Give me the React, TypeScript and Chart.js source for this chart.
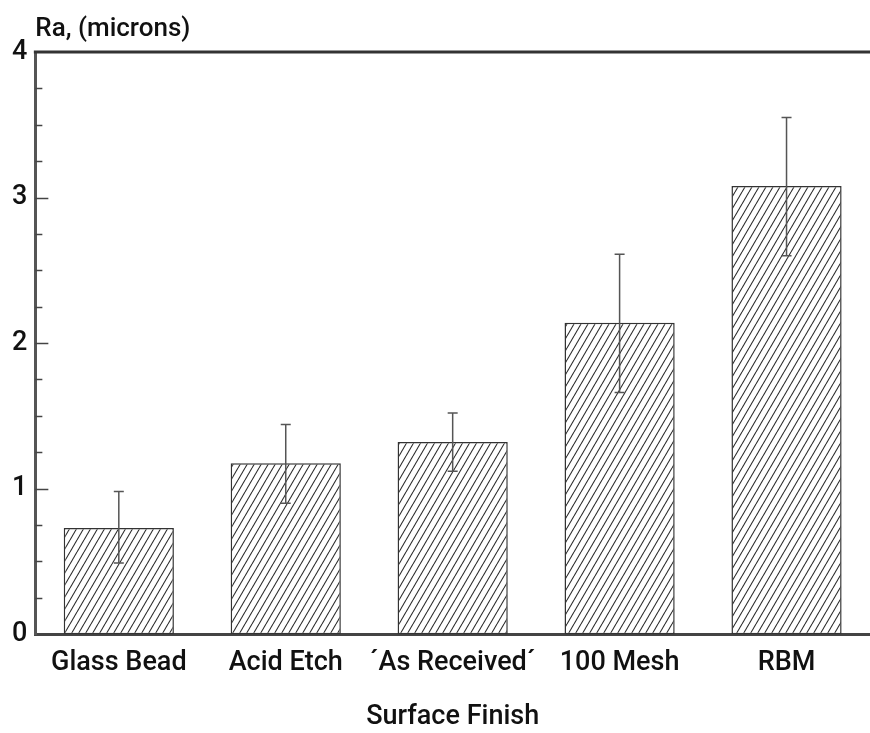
import React, { useEffect, useRef } from "react";
import { Chart, registerables } from "chart.js";

Chart.register(...registerables);

const categories = ["Glass Bead", "Acid Etch", "´As Received´", "100 Mesh", "RBM"];
const raValues = [0.73, 1.175, 1.32, 2.14, 3.08];
const errLow = [0.49, 0.9, 1.12, 1.66, 2.6];
const errHigh = [0.98, 1.44, 1.52, 2.61, 3.55];
const yTicks = [0, 1, 2, 3, 4];
const yLabel = "Ra, (microns)";
const xLabel = "Surface Finish";

const FONT = "Roboto, 'Liberation Sans', Arial, sans-serif";
const WEIGHT = 500;

function makeHatch(): CanvasPattern | string {
  const w = 7;
  const h = 12;
  const c = document.createElement("canvas");
  c.width = w;
  c.height = h;
  const ctx = c.getContext("2d");
  if (!ctx) return "#fff";
  ctx.fillStyle = "#ffffff";
  ctx.fillRect(0, 0, w, h);
  ctx.strokeStyle = "#2a2a2a";
  ctx.lineWidth = 1.1;
  for (const x0 of [-w, 0, w]) {
    ctx.beginPath();
    ctx.moveTo(x0, h);
    ctx.lineTo(x0 + w, 0);
    ctx.stroke();
  }
  const p = ctx.createPattern(c, "repeat");
  return p || "#fff";
}

const decorPlugin = {
  id: "decor",
  afterDatasetsDraw(chart: any) {
    const { ctx, chartArea, scales } = chart;
    const y = scales.y;
    const meta = chart.getDatasetMeta(0);
    ctx.save();
    // error bars
    ctx.strokeStyle = "#555";
    ctx.lineWidth = 1.5;
    meta.data.forEach((bar: any, i: number) => {
      const x = bar.x;
      const yl = y.getPixelForValue(errLow[i]);
      const yh = y.getPixelForValue(errHigh[i]);
      ctx.beginPath();
      ctx.moveTo(x, yl);
      ctx.lineTo(x, yh);
      ctx.moveTo(x - 5, yl);
      ctx.lineTo(x + 5, yl);
      ctx.moveTo(x - 5, yh);
      ctx.lineTo(x + 5, yh);
      ctx.stroke();
    });
    // inner ticks on y axis
    ctx.strokeStyle = "#444";
    ctx.lineWidth = 1.5;
    const min = y.min;
    const max = y.max;
    for (let v = min; v <= max + 1e-9; v += 0.25) {
      const major = Math.abs(v - Math.round(v)) < 1e-9;
      if (v === min || v >= max - 1e-9) continue;
      const py = Math.round(y.getPixelForValue(v)) + 0.5;
      ctx.beginPath();
      ctx.moveTo(chartArea.left, py);
      ctx.lineTo(chartArea.left + (major ? 13 : 7), py);
      ctx.stroke();
    }
    // top frame line
    ctx.strokeStyle = "#333";
    ctx.lineWidth = 3;
    ctx.beginPath();
    ctx.moveTo(chartArea.left - 1.5, chartArea.top);
    ctx.lineTo(chart.width, chartArea.top);
    ctx.stroke();
    // y axis label
    ctx.fillStyle = "#111";
    ctx.font = `${WEIGHT} 26px ${FONT}`;
    ctx.textAlign = "left";
    ctx.textBaseline = "alphabetic";
    ctx.fillText(yLabel, chartArea.left, chartArea.top - 16);
    ctx.restore();
  },
};

export default function App() {
  const ref = useRef<HTMLCanvasElement | null>(null);
  useEffect(() => {
    if (!ref.current) return;
    const hatch = makeHatch();
    const chart = new Chart(ref.current, {
      type: "bar",
      data: {
        labels: categories,
        datasets: [
          {
            data: raValues,
            backgroundColor: hatch as any,
            borderColor: "#333",
            borderWidth: 1.5,
            borderSkipped: false,
            categoryPercentage: 1,
            barPercentage: 0.66,
          },
        ],
      },
      options: {
        animation: false,
        responsive: true,
        maintainAspectRatio: false,
        layout: { padding: { left: 4, top: 52, right: 0, bottom: 0 } },
        plugins: {
          legend: { display: false },
          tooltip: { enabled: false },
          title: { display: false },
        },
        scales: {
          x: {
            grid: { display: false, drawTicks: false },
            border: { display: true, color: "#444", width: 3 },
            ticks: {
              color: "#111",
              font: { family: FONT, size: 27, weight: WEIGHT },
              padding: 13,
              maxRotation: 0,
              autoSkip: false,
            },
            title: {
              display: true,
              text: xLabel,
              color: "#111",
              font: { family: FONT, size: 27, weight: WEIGHT },
              padding: { top: 8, bottom: 0 },
            },
          },
          y: {
            min: 0,
            max: 4,
            afterBuildTicks: (scale: any) => {
              scale.ticks = yTicks.map((v) => ({ value: v }));
            },
            grid: { display: false, drawTicks: false },
            border: { display: true, color: "#555", width: 3 },
            ticks: {
              color: "#111",
              font: { family: FONT, size: 27, weight: WEIGHT },
              padding: 8,
            },
          },
        },
      },
      plugins: [decorPlugin],
    });
    return () => chart.destroy();
  }, []);
  return (
    <div style={{ position: "absolute", left: 0, top: 0, width: 870, height: 733, background: "#fff" }}>
      <canvas ref={ref} />
    </div>
  );
}
